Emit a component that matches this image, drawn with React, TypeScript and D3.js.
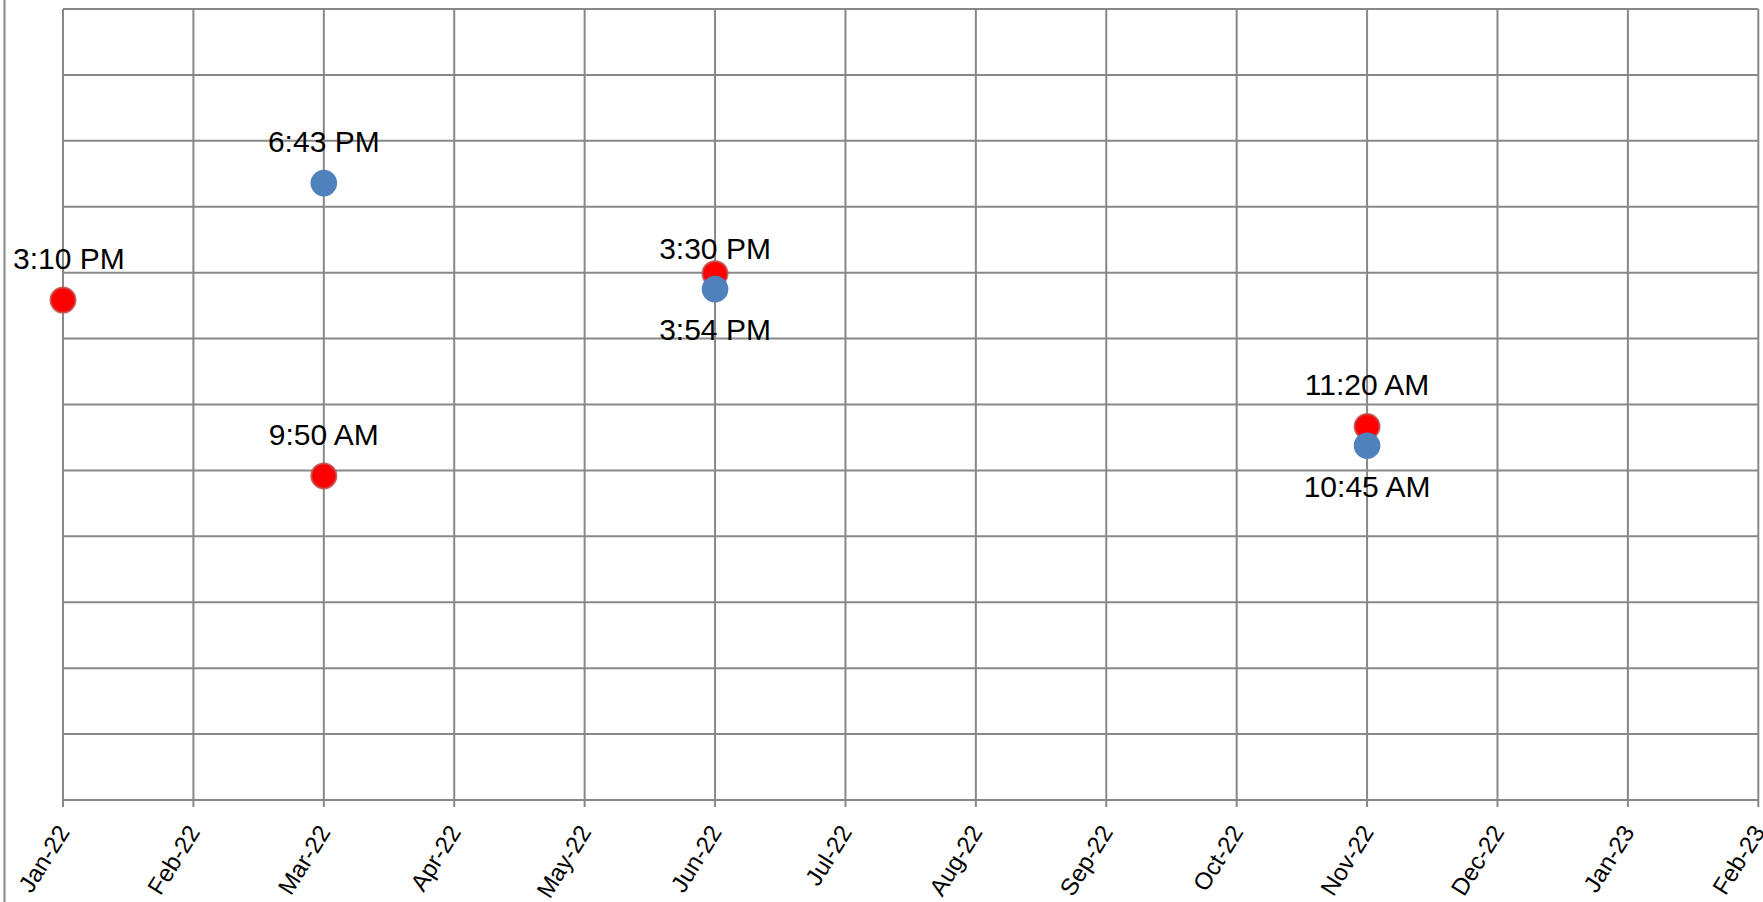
import React, { useEffect, useRef } from "react";
import * as d3 from "d3";

// ---- data ----
const months = [
  "Jan-22", "Feb-22", "Mar-22", "Apr-22", "May-22", "Jun-22", "Jul-22",
  "Aug-22", "Sep-22", "Oct-22", "Nov-22", "Dec-22", "Jan-23", "Feb-23",
];
// red series: month label + time of day (hours)
const redMonths = ["Jan-22", "Mar-22", "Jun-22", "Nov-22"];
const redHours = [15.167, 9.833, 15.97, 11.333];
const redLabels = ["3:10 PM", "9:50 AM", "3:30 PM", "11:20 AM"];
const redPlacement = ["above", "above", "above", "above"];

// blue series
const blueMonths = ["Mar-22", "Jun-22", "Nov-22"];
const blueHours = [18.717, 15.5, 10.75];
const blueLabels = ["6:43 PM", "3:54 PM", "10:45 AM"];
const bluePlacement = ["above", "below", "below"];

const yTicks = [0, 2, 4, 6, 8, 10, 12, 14, 16, 18, 20, 22, 24];

// ---- layout ----
const W = 1763;
const H = 902;
const left = 63;
const right = 1758.3;
const top = 9;
const bottom = 800;
const FONT = "'Liberation Sans', Arial, sans-serif";
const GRID = "#888888";
// per-label vertical nudges (series-index)
const labelNudge: Record<string, number> = { "red-2": 16 };

export default function App() {
  const ref = useRef<SVGSVGElement | null>(null);

  useEffect(() => {
    const svg = d3.select(ref.current);
    svg.selectAll("*").remove();

    const x = d3.scalePoint<string>().domain(months).range([left, right]);
    const y = d3.scaleLinear().domain([0, 24]).range([bottom, top]);

    svg.append("rect").attr("width", W).attr("height", H).attr("fill", "#fff");

    // outer left border
    svg.append("line")
      .attr("x1", 4.5).attr("x2", 4.5).attr("y1", 0).attr("y2", H)
      .attr("stroke", GRID).attr("stroke-width", 2);

    const g = svg.append("g");
    // horizontal gridlines
    g.selectAll("line.h").data(yTicks).enter().append("line")
      .attr("x1", left).attr("x2", right)
      .attr("y1", (d) => y(d)).attr("y2", (d) => y(d))
      .attr("stroke", GRID).attr("stroke-width", 2);
    // vertical gridlines + ticks
    g.selectAll("line.v").data(months).enter().append("line")
      .attr("x1", (d) => x(d)!).attr("x2", (d) => x(d)!)
      .attr("y1", top).attr("y2", bottom + 7)
      .attr("stroke", GRID).attr("stroke-width", 2);

    // x tick labels
    g.selectAll("text.xt").data(months).enter().append("text")
      .attr("transform", (d) => `translate(${x(d)! + 7.5},${bottom + 32}) rotate(-58)`)
      .attr("text-anchor", "end")
      .attr("font-family", FONT).attr("font-size", 24).attr("fill", "#000")
      .text((d) => d);

    const series = [
      { key: "red", months: redMonths, hours: redHours, labels: redLabels, place: redPlacement, fill: "#ff0000", stroke: "rgba(192,80,77,0.85)", sw: 2 },
      { key: "blue", months: blueMonths, hours: blueHours, labels: blueLabels, place: bluePlacement, fill: "#4f81bd", stroke: "none", sw: 0 },
    ];

    series.forEach((s) => {
      s.months.forEach((m, i) => {
        const cx = x(m)!;
        const cy = y(s.hours[i]);
        svg.append("circle").attr("cx", cx).attr("cy", cy).attr("r", s.key === "red" ? 12.5 : 13.3)
          .attr("fill", s.fill).attr("stroke", s.stroke).attr("stroke-width", s.sw);
      });
    });

    series.forEach((s) => {
      s.months.forEach((m, i) => {
        const cx = x(m)!;
        const cy = y(s.hours[i]);
        const nudge = labelNudge[`${s.key}-${i}`] || 0;
        const ty = s.place[i] === "above" ? cy - 31 + nudge : cy + 51 + nudge;
        const t = svg.append("text")
          .attr("x", cx).attr("y", ty)
          .attr("text-anchor", "middle")
          .attr("font-family", FONT).attr("font-size", 30).attr("fill", "#000")
          .text(s.labels[i]);
        const node = t.node() as SVGTextElement;
        const w = node.getComputedTextLength();
        if (cx - w / 2 < 13) {
          t.attr("text-anchor", "start").attr("x", 13);
        }
      });
    });
  }, []);

  return (
    <div style={{ position: "fixed", left: 0, top: 0, width: W, height: H, background: "#fff" }}>
      <svg ref={ref} width={W} height={H} style={{ display: "block" }} />
    </div>
  );
}
